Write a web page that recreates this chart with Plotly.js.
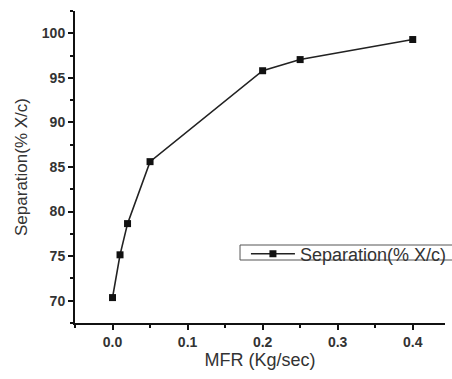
<!DOCTYPE html>
<html>
<head>
<meta charset="utf-8">
<script src="https://cdn.plot.ly/plotly-3.0.1.min.js"></script>
<style>html,body{margin:0;padding:0;background:#fff;}#chart{width:452px;height:379px;}</style>
</head>
<body>
<div id="chart"></div>
<script>
const mfr = [0, 0.01, 0.02, 0.05, 0.2, 0.25, 0.4];
const separation = [70.35, 75.15, 78.65, 85.6, 95.8, 97.05, 99.3];
const seriesName = 'Separation(% X/c)';
const xTitle = 'MFR (Kg/sec)';
const yTitle = 'Separation(% X/c)';
const xTickVals = [0, 0.1, 0.2, 0.3, 0.4];
const xTickText = ['0.0', '0.1', '0.2', '0.3', '0.4'];
const yTickVals = [70, 75, 80, 85, 90, 95, 100];
const yTickText = ['70', '75', '80', '85', '90', '95', '100'];

const bold = a => a.map(s => '<b>' + s + '</b>');

const trace = {
  x: mfr, y: separation, name: seriesName,
  type: 'scatter', mode: 'lines+markers',
  line: {color: '#222', width: 1.6},
  marker: {symbol: 'square', size: 7, color: '#111'}
};

const fontFam = 'Arial, "Liberation Sans", sans-serif';
const layout = {
  width: 452, height: 379,
  margin: {l: 75, r: 0, t: 11, b: 56, pad: 0},
  paper_bgcolor: '#fff', plot_bgcolor: '#fff',
  font: {family: fontFam, color: '#333'},
  showlegend: true,
  legend: {
    x: 0.462, xanchor: 'left', y: 0.221, yanchor: 'middle',
    itemwidth: 44,
    bgcolor: 'rgba(0,0,0,0)', borderwidth: 0,
    font: {size: 18, color: '#333', family: fontFam}
  },
  xaxis: {
    range: [-0.05, 0.443],
    tickmode: 'array', tickvals: xTickVals, ticktext: bold(xTickText),
    ticks: 'outside', ticklen: 5, tickwidth: 2, tickcolor: '#111',
    showline: true, linecolor: '#111', linewidth: 2,
    showgrid: false, zeroline: false,
    tickfont: {size: 14, color: '#333'},
    minor: {dtick: 0.05, tick0: 0.05, ticks: 'outside', ticklen: 3, tickwidth: 2, tickcolor: '#111', showgrid: false},
    title: {text: xTitle, font: {size: 18, color: '#333'}, standoff: 4}
  },
  yaxis: {
    range: [67.5, 102.5],
    tickmode: 'array', tickvals: yTickVals, ticktext: bold(yTickText),
    ticks: 'outside', ticklen: 5, tickwidth: 2, tickcolor: '#111',
    showline: true, linecolor: '#111', linewidth: 2,
    showgrid: false, zeroline: false,
    tickfont: {size: 14, color: '#333'},
    minor: {dtick: 2.5, tick0: 67.5, ticks: 'outside', ticklen: 3, tickwidth: 2, tickcolor: '#111', showgrid: false},
    title: {text: yTitle, font: {size: 17, color: '#333'}, standoff: 10}
  },
  shapes: [{
    type: 'rect', xref: 'paper', yref: 'paper',
    x0: 0.446, x1: 1.05, y0: (323 - 260) / 312, y1: (323 - 245) / 312,
    line: {color: '#555', width: 1}, fillcolor: 'rgba(0,0,0,0)', layer: 'below'
  }]
};

Plotly.newPlot('chart', [trace], layout, {displayModeBar: false, staticPlot: true});
</script>
</body>
</html>
